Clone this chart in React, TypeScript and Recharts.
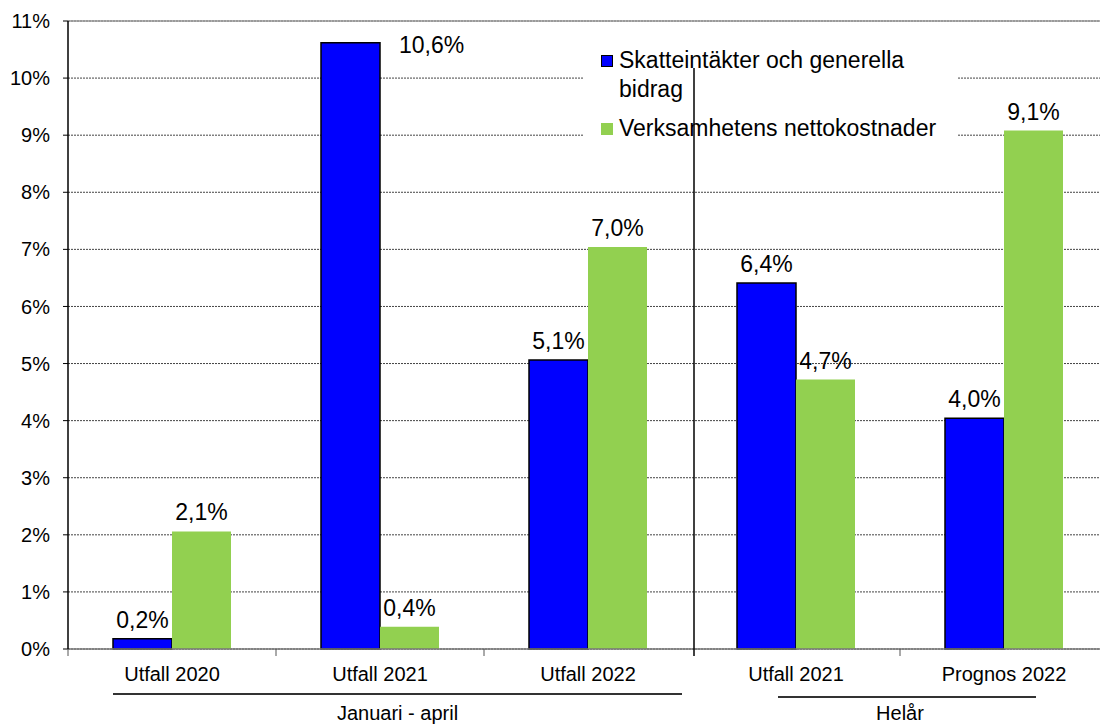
import React from 'react';
import { BarChart, Bar, XAxis, YAxis, CartesianGrid, Legend, LabelList, ReferenceLine } from 'recharts';

const categories = ['Utfall 2020', 'Utfall 2021', 'Utfall 2022', 'Utfall 2021', 'Prognos 2022'];
const skatteintakter = [0.18, 10.62, 5.06, 6.41, 4.04];
const nettokostnader = [2.06, 0.39, 7.04, 4.72, 9.08];
const yTicks = [0, 1, 2, 3, 4, 5, 6, 7, 8, 9, 10, 11];
const seriesNames = ['Skatteintäkter och generella bidrag', 'Verksamhetens nettokostnader'];
const seriesColors = ['#0000FF', '#92D050'];
const groups = [
  { label: 'Januari - april', first: 0, last: 2 },
  { label: 'Helår', first: 3, last: 4 },
];

const data = categories.map((name, i) => ({ name, skatt: skatteintakter[i], netto: nettokostnader[i] }));

// layout
const W = 1120;
const H = 724;
const TOP = 21;
const LEFT = 68;
const RIGHT = 12;
const BAND = (W - LEFT - RIGHT) / categories.length;
const SEP_TOP = TOP + 47;
const groupLine = [
  { start: -59, end: 94, y: 45 },
  { start: -18, end: 32, y: 48 },
];
const LEG = { left: 583, top: 40, width: 375, height: 103 };
const FONT = '"Liberation Sans", Arial, sans-serif';

const fmt = (v: number) => `${v.toFixed(1).replace('.', ',')}%`;

function CategoryTick(props: any) {
  const { x, y, payload } = props;
  const i = props.index ?? payload.index;
  const left = x - BAND / 2;
  const gi = groups.findIndex((g) => g.first === i);
  const isSep = gi > 0;
  let groupEl = null;
  if (gi >= 0) {
    const g = groups[gi];
    const gl = groupLine[gi];
    const x1 = x + gl.start;
    const x2 = x + (g.last - g.first) * BAND + gl.end;
    groupEl = (
      <g>
        <line x1={x1} x2={x2} y1={y + gl.y} y2={y + gl.y} stroke="#333" strokeWidth={2} />
        <text x={(x1 + x2) / 2 - (gi === 1 ? 7 : 0)} y={y + 71} textAnchor="middle" fontSize={20} fill="#000">
          {g.label}
        </text>
      </g>
    );
  }
  return (
    <g>
      <line x1={left + (isSep ? 2 : 0)} x2={left + (isSep ? 2 : 0)} y1={isSep ? SEP_TOP : y} y2={y + 7} stroke={isSep ? '#000' : '#555'} strokeWidth={isSep ? 1.5 : 1} />
      <text x={x} y={y + 32} textAnchor="middle" fontSize={20} fill="#000">
        {payload.value}
      </text>
      {groupEl}
    </g>
  );
}

function renderValueLabel(p: any) {
  const vb = p.viewBox ?? p;
  const x = p.x ?? vb.x;
  const y = p.y ?? vb.y;
  const width = p.width ?? vb.width;
  const v = Number(p.value);
  if (v > 10) {
    return (
      <text x={x + width + 19} y={y + 10} fontSize={23} fill="#000" textAnchor="start">
        {fmt(v)}
      </text>
    );
  }
  return (
    <text x={x + width / 2} y={y - 11} fontSize={23} fill="#000" textAnchor="middle">
      {fmt(v)}
    </text>
  );
}

function renderGridLine(p: any) {
  const { x1, x2, y1, y2, index } = p;
  const common = { stroke: '#444', strokeDasharray: '2 1', strokeWidth: 1 };
  if (y1 > LEG.top && y1 < LEG.top + LEG.height) {
    return (
      <g key={`gl-${index}`}>
        <line x1={x1} x2={LEG.left} y1={y1} y2={y2} {...common} />
        <line x1={LEG.left + LEG.width} x2={x2} y1={y1} y2={y2} {...common} />
      </g>
    );
  }
  return <line key={`gl-${index}`} x1={x1} x2={x2} y1={y1} y2={y2} {...common} />;
}

function renderLegend() {
  return (
    <div style={{ paddingTop: 6, fontSize: 23, lineHeight: '29px', color: '#000', fontFamily: FONT }}>
      {seriesNames.map((n, i) => (
        <div key={n} style={{ display: 'flex', alignItems: 'flex-start', paddingLeft: 18, marginTop: i === 0 ? 0 : 10 }}>
          <span
            style={{
              flex: '0 0 12px',
              width: 12,
              height: 12,
              marginTop: 9,
              marginRight: 6,
              boxSizing: 'border-box',
              background: seriesColors[i],
              border: i === 0 ? '1px solid #000' : 'none',
            }}
          />
          <span>{n}</span>
        </div>
      ))}
    </div>
  );
}

export default function App() {
  return (
    <div style={{ width: 1100, height: 724, overflow: 'hidden', background: '#fff', fontFamily: FONT }}>
      <style>{'body{margin:0}'}</style>
      <BarChart width={W} height={H} data={data} margin={{ top: TOP, right: RIGHT, bottom: 0, left: 0 }} barGap={0}>
        <CartesianGrid vertical={false} horizontal={renderGridLine} />
        <ReferenceLine y={11} stroke="#999" strokeWidth={1.5} />
        <XAxis
          dataKey="name"
          height={H - 649}
          axisLine={{ stroke: '#777', strokeWidth: 1.5 }}
          tickLine={false}
          tickSize={0}
          tickMargin={0}
          interval={0}
          tick={<CategoryTick />}
        />
        <YAxis
          domain={[0, 11]}
          ticks={yTicks}
          interval={0}
          width={LEFT}
          tickFormatter={(v: number) => `${v}%`}
          tick={{ fontSize: 20, fill: '#000' }}
          axisLine={{ stroke: '#000', strokeWidth: 1.5 }}
          tickLine={{ stroke: '#000' }}
          tickSize={5}
          tickMargin={13}
        />
        <Legend
          layout="vertical"
          align="center"
          verticalAlign="middle"
          wrapperStyle={{ left: LEG.left, top: LEG.top, width: LEG.width, height: LEG.height }}
          content={renderLegend}
        />
        <Bar dataKey="skatt" name={seriesNames[0]} fill={seriesColors[0]} stroke="#000" strokeWidth={1.5} barSize={59} isAnimationActive={false}>
          <LabelList dataKey="skatt" content={renderValueLabel} />
        </Bar>
        <Bar dataKey="netto" name={seriesNames[1]} fill={seriesColors[1]} barSize={59} isAnimationActive={false}>
          <LabelList dataKey="netto" content={renderValueLabel} />
        </Bar>
      </BarChart>
    </div>
  );
}
